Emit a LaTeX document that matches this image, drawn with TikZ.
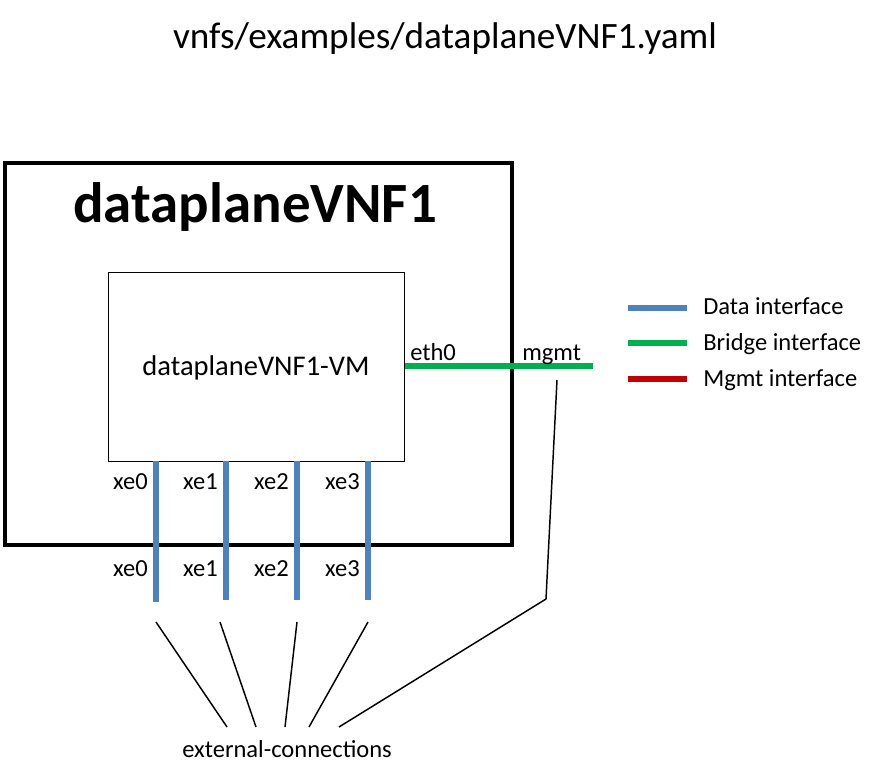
\documentclass[tikz,border=0pt]{standalone}
\usepackage{fontspec}
\setmainfont{Carlito}
\definecolor{dataBlue}{HTML}{4F81BD}
\definecolor{bridgeGreen}{HTML}{00B050}
\definecolor{mgmtRed}{HTML}{C00000}
\begin{document}
\begin{tikzpicture}[x=0.75pt,y=-0.75pt,
  lbl/.style={inner sep=0pt, font=\fontsize{18.4}{20}\selectfont},
  datal/.style={draw=dataBlue, line width=4.2pt},
  bridgel/.style={draw=bridgeGreen, line width=3.8pt},
  mgmtl/.style={draw=mgmtRed, line width=3.8pt},
  conn/.style={draw=black, line width=1.1pt}]
\useasboundingbox (0,0) rectangle (888,780);
% title
\node (title) [inner sep=0pt, anchor=base, font=\fontsize{27.9}{30}\selectfont] at (445,49) {vnfs/examples/dataplaneVNF1.yaml};
% outer VNF box
\node (vnf) [draw, line width=3pt, minimum width=380.25pt, minimum height=286.5pt, anchor=north west, inner sep=0pt] at (3,161) {};
\node (vnfname) [inner sep=0pt, anchor=base, font=\fontsize{42.7}{46}\selectfont\bfseries] at (255,223) {dataplaneVNF1};
% VM box
\node (vm) [draw, line width=1.1pt, minimum width=222pt, minimum height=141.75pt, anchor=north west, inner sep=0pt] at (108,272) {};
\node (vmname) [inner sep=0pt, anchor=base, font=\fontsize{21.4}{24}\selectfont] at (256,375) {dataplaneVNF1-VM};
% bridge interface
\coordinate (ethA) at (vm.east |- 0,366);
\coordinate (ethB) at (593,366);
\draw[bridgel] (ethA) -- (ethB);
\node (eth0) [lbl, anchor=base west] at (410,360) {eth0};
\node (mgmt) [lbl, anchor=base west] at (522,360) {mgmt};
% data interfaces
\foreach \i/\x/\e in {0/156/602,1/226/600,2/297/600,3/368/600}{
  \coordinate (d\i t) at (\x,461);
  \coordinate (d\i b) at (\x,\e);
  \draw[datal] (d\i t) -- (d\i b);
  \node (xeu\i) [lbl, anchor=base east] at (\x-8,489) {xe\i};
  \node (xel\i) [lbl, anchor=base east] at (\x-8,576) {xe\i};
}
% external connections
\node (ext) [lbl, anchor=base west] at (182,757) {external-connections};
\coordinate (c0) at (156,622); \coordinate (e0) at (227,727);
\coordinate (c1) at (220,622); \coordinate (e1) at (256,727);
\coordinate (c2) at (297,622); \coordinate (e2) at (285,727);
\coordinate (c3) at (368,622); \coordinate (e3) at (309,727);
\coordinate (m0) at (557,380); \coordinate (m1) at (546,599); \coordinate (e4) at (339,727);
\draw[conn] (c0) -- (e0);
\draw[conn] (c1) -- (e1);
\draw[conn] (c2) -- (e2);
\draw[conn] (c3) -- (e3);
\draw[conn] (m0) -- (m1) -- (e4);
% legend
\coordinate (lg1a) at (628,308); \coordinate (lg1b) at (687,308);
\coordinate (lg2a) at (628,343); \coordinate (lg2b) at (687,343);
\coordinate (lg3a) at (628,379); \coordinate (lg3b) at (687,379);
\draw[datal] (lg1a) -- (lg1b);
\draw[bridgel] (lg2a) -- (lg2b);
\draw[mgmtl] (lg3a) -- (lg3b);
\node (lgt1) [lbl, anchor=base west] at (703,315) {Data interface};
\node (lgt2) [lbl, anchor=base west] at (703,350) {Bridge interface};
\node (lgt3) [lbl, anchor=base west] at (703,386) {Mgmt interface};
\end{tikzpicture}
\end{document}
